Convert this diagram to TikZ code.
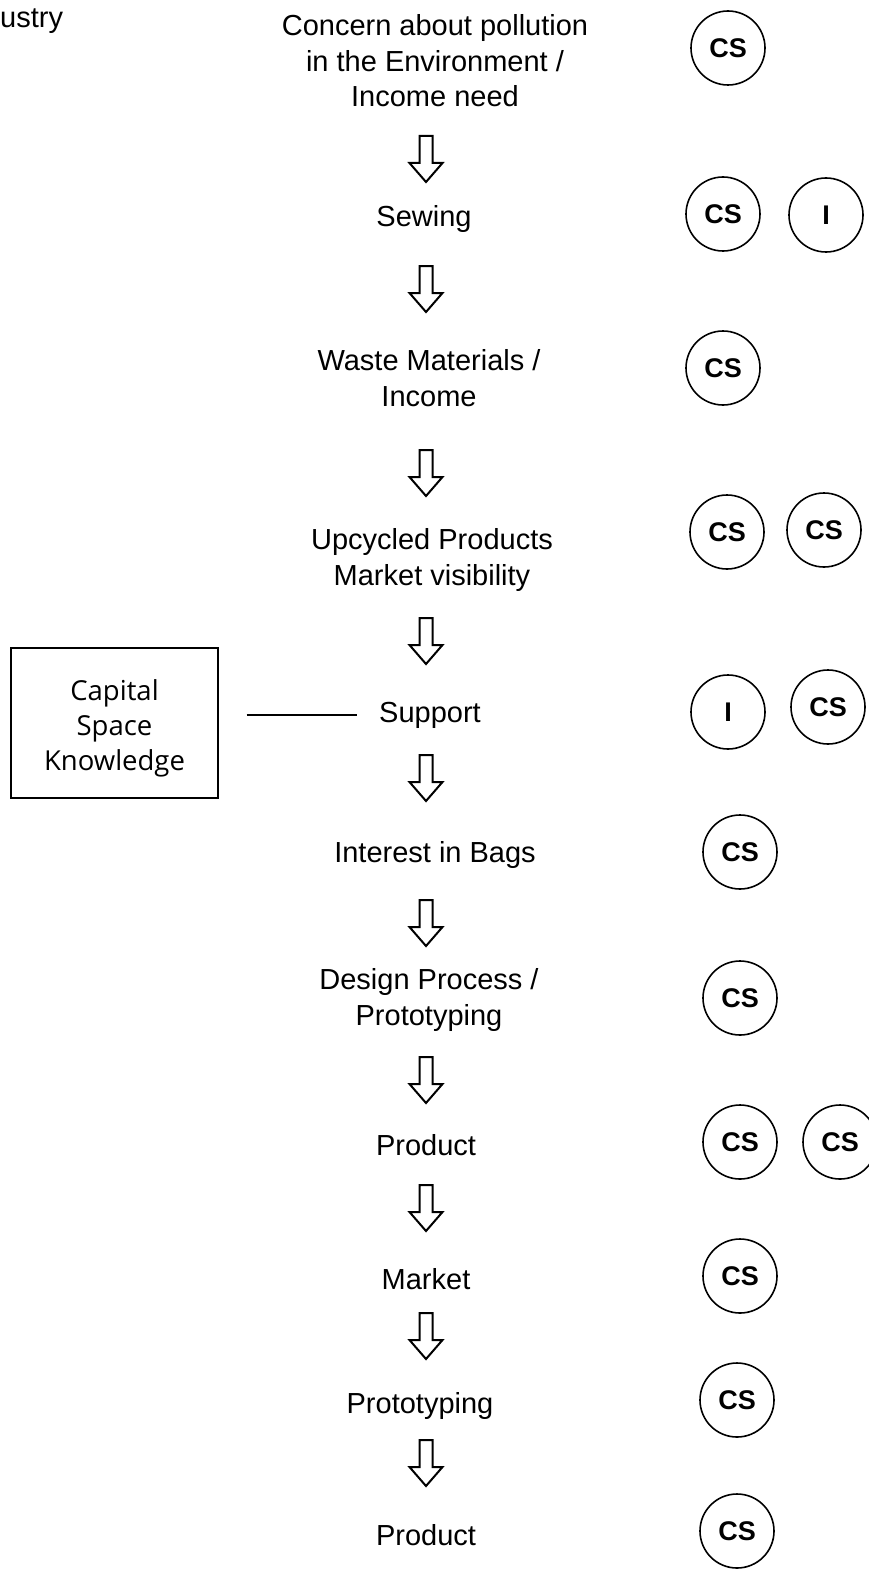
\documentclass[tikz,border=0pt]{standalone}
\usepackage{fontspec}
\setmainfont{Liberation Sans}
\newfontfamily\boxfont{Open Sans}
\usepackage{tikz}
\usetikzlibrary{positioning,calc}
\tikzstyle{stage} = [inner sep=0pt, align=center, font=\fontsize{29}{35.5}\selectfont]
\tikzstyle{badge} = [circle, draw, line width=1.6pt, minimum size=74pt, inner sep=0pt, font=\bfseries\fontsize{27}{30}\selectfont]
\tikzstyle{resource} = [inner sep=0pt, align=center, font=\boxfont\fontsize{27.5}{35}\selectfont]
\tikzset{
  pics/downarrow/.style={code={
    \draw[line width=2pt, line join=miter, fill=white]
      (-6.5,0) -- (-6.5,27) -- (-16.5,27) -- (0,46) -- (16.5,27) -- (6.5,27) -- (6.5,0) -- cycle;
  }}
}

\begin{document}
\begin{tikzpicture}[x=1pt, y=-1pt]
  \useasboundingbox (0,0) rectangle (869,1570);
  \clip (0,0) rectangle (869,1570);

  \node[stage, anchor=base west] (ind) at (0,28) {ustry};

  % chain of stages
  \node[stage] (s1) at (435,61) {Concern about pollution\\in the Environment /\\Income need};
  \node[stage] (s2) at (424,219) {Sewing};
  \node[stage] (s3) at (429,378) {Waste Materials /\\Income};
  \node[stage] (s4) at (432,560) {Upcycled Products\\Market visibility};
  \node[stage] (s5) at (430,715) {Support};
  \node[stage] (s6) at (435,855) {Interest in Bags};
  \node[stage] (s7) at (429,1000) {Design Process /\\Prototyping};
  \node[stage] (s8) at (426,1145) {Product};
  \node[stage] (s9) at (426,1279) {Market};
  \node[stage] (s10) at (420,1406) {Prototyping};
  \node[stage] (s11) at (426,1535) {Product};

  \foreach \y in {136,266,450,618,755,900,1057,1185,1313,1440}
    \pic at (426,\y) {downarrow};

  % resources feeding the support stage
  \node[resource] (res) at (114.5,728) {Capital\\Space\\Knowledge};
  \draw[line width=2pt] ($(res.center)+(-103.5,-80)$) rectangle ($(res.center)+(103.5,70)$);
  \draw[line width=1.6pt, shorten <=132pt, shorten >=22pt] (res.center |- s5.west) -- (s5.west);

  % actor tags
  \node[badge] (t1) at (728,48) {CS};
  \node[badge] (t2a) at (723,214) {CS};
  \node[badge] (t2b) at (826,215) {I};
  \node[badge] (t3) at (723,368) {CS};
  \node[badge] (t4a) at (727,532) {CS};
  \node[badge] (t4b) at (824,530) {CS};
  \node[badge] (t5a) at (728,712) {I};
  \node[badge] (t5b) at (828,707) {CS};
  \node[badge] (t6) at (740,852) {CS};
  \node[badge] (t7) at (740,998) {CS};
  \node[badge] (t8a) at (740,1142) {CS};
  \node[badge] (t8b) at (840,1142) {CS};
  \node[badge] (t9) at (740,1276) {CS};
  \node[badge] (t10) at (737,1400) {CS};
  \node[badge] (t11) at (737,1531) {CS};
\end{tikzpicture}
\end{document}
